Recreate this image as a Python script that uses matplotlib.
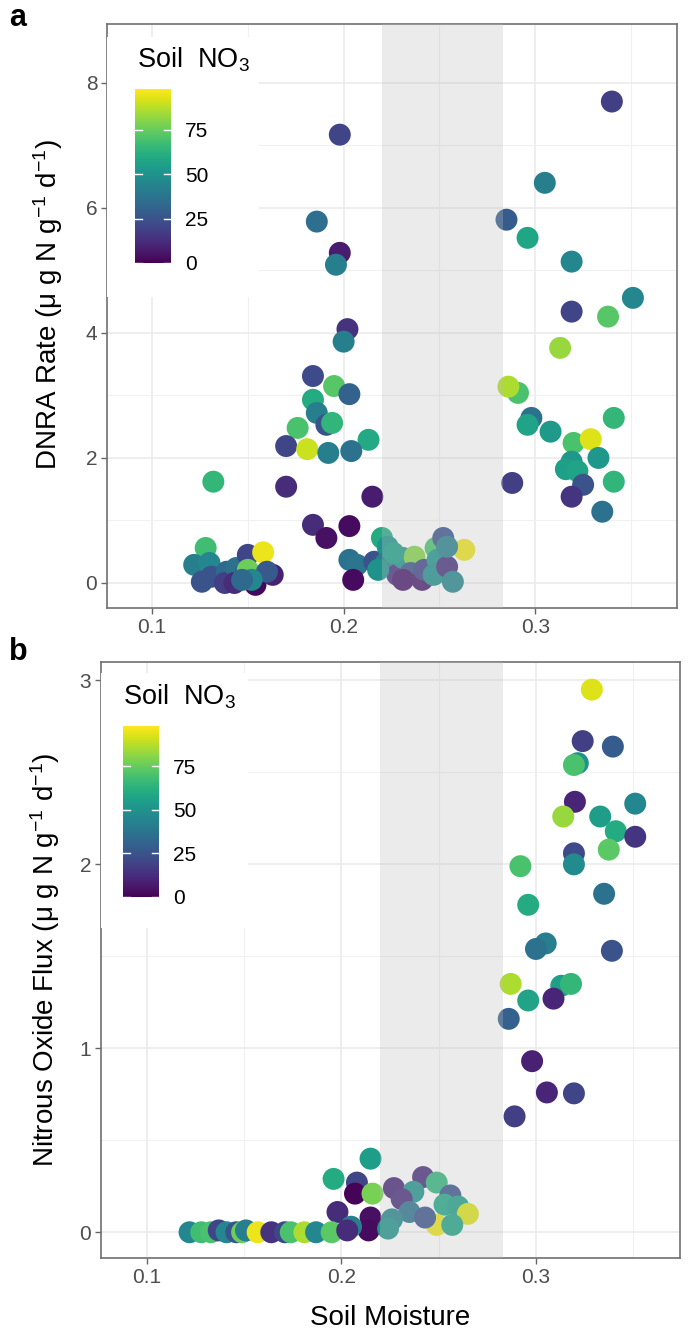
import matplotlib
matplotlib.use('agg')
import matplotlib.pyplot as plt
import numpy as np
from matplotlib.patches import Rectangle
from matplotlib.colors import Normalize

plt.rcParams['font.family'] = ['Liberation Sans', 'DejaVu Sans']
plt.rcParams['mathtext.fontset'] = 'custom'
plt.rcParams['mathtext.rm'] = 'Liberation Sans'
plt.rcParams['mathtext.it'] = 'Liberation Sans:italic'
plt.rcParams['mathtext.bf'] = 'Liberation Sans:bold'

# panel a: DNRA rate vs soil moisture, coloured by soil NO3
moist_a = [0.198, 0.186, 0.198, 0.196, 0.340, 0.305, 0.285, 0.296, 0.319, 0.351,
           0.319, 0.338, 0.313, 0.291, 0.286, 0.298, 0.296, 0.308, 0.341, 0.320,
           0.329, 0.333, 0.319, 0.316, 0.322, 0.325, 0.319, 0.341, 0.288, 0.335,
           0.184, 0.191, 0.203, 0.215, 0.203, 0.207, 0.205, 0.216, 0.220, 0.223,
           0.222, 0.228, 0.231, 0.237, 0.235, 0.231, 0.241, 0.242, 0.248, 0.252,
           0.249, 0.247, 0.254, 0.257, 0.263, 0.254, 0.218, 0.226, 0.128, 0.122,
           0.130, 0.131, 0.139, 0.138, 0.144, 0.143, 0.150, 0.149, 0.150, 0.158,
           0.154, 0.163, 0.160, 0.152, 0.126, 0.147, 0.202, 0.200, 0.184, 0.195,
           0.203, 0.184, 0.186, 0.191, 0.194, 0.176, 0.213, 0.170, 0.181, 0.192,
           0.204, 0.170, 0.132]
dnra = [7.17, 5.78, 5.28, 5.09, 7.70, 6.40, 5.81, 5.52, 5.14, 4.56,
        4.34, 4.26, 3.76, 3.04, 3.14, 2.64, 2.53, 2.42, 2.64, 2.24,
        2.30, 2.00, 1.94, 1.82, 1.79, 1.57, 1.38, 1.62, 1.60, 1.14,
        0.93, 0.72, 0.91, 1.38, 0.37, 0.29, 0.05, 0.34, 0.72, 0.58,
        0.32, 0.13, 0.40, 0.42, 0.16, 0.05, 0.05, 0.21, 0.56, 0.72,
        0.37, 0.13, 0.26, 0.02, 0.53, 0.58, 0.21, 0.48, 0.56, 0.29,
        0.32, 0.10, 0.18, 0.00, 0.24, 0.00, 0.45, 0.18, 0.21, 0.49,
        -0.03, 0.13, 0.18, 0.05, 0.02, 0.05, 4.06, 3.86, 3.31, 3.15,
        3.02, 2.93, 2.72, 2.53, 2.56, 2.48, 2.29, 2.19, 2.14, 2.08,
        2.11, 1.54, 1.62]
no3_a = [20, 35, 8, 42, 18, 42, 28, 58, 45, 45,
         20, 72, 83, 70, 86, 37, 57, 53, 65, 70,
         93, 52, 52, 55, 57, 25, 15, 64, 18, 37,
         12, 4, 3, 8, 37, 38, 3, 25, 60, 50,
         42, 14, 50, 80, 25, 6, 7, 20, 70, 25,
         50, 48, 14, 45, 95, 42, 50, 55, 68, 42,
         45, 25, 33, 18, 37, 12, 20, 30, 76, 95,
         2, 9, 27, 45, 25, 33, 14, 42, 22, 72,
         31, 60, 42, 25, 64, 70, 59, 20, 90, 42,
         37, 12, 65]

# panel b: nitrous oxide flux vs soil moisture
moist_b = [0.3287, 0.324, 0.3395, 0.3215, 0.3195, 0.351, 0.320, 0.314, 0.333, 0.341,
           0.351, 0.3374, 0.3195, 0.3195, 0.292, 0.335, 0.296, 0.305, 0.300, 0.339,
           0.287, 0.286, 0.296, 0.313, 0.318, 0.309, 0.298, 0.289, 0.3056, 0.3195,
           0.215, 0.196, 0.208, 0.207, 0.216, 0.198, 0.215, 0.214, 0.242, 0.249,
           0.227, 0.237, 0.231, 0.256, 0.253, 0.260, 0.265, 0.235, 0.249, 0.257,
           0.226, 0.243, 0.224, 0.205,
           0.122, 0.128, 0.133, 0.137, 0.141, 0.146, 0.149, 0.151, 0.157, 0.164,
           0.171, 0.174, 0.181, 0.187, 0.195, 0.203]
n2o = [2.95, 2.67, 2.64, 2.55, 2.54, 2.33, 2.34, 2.26, 2.26, 2.18,
       2.15, 2.08, 2.06, 2.00, 1.99, 1.84, 1.78, 1.57, 1.54, 1.53,
       1.35, 1.16, 1.26, 1.34, 1.35, 1.27, 0.93, 0.63, 0.76, 0.755,
       0.40, 0.29, 0.27, 0.21, 0.21, 0.11, 0.08, 0.01, 0.30, 0.27,
       0.24, 0.22, 0.18, 0.20, 0.15, 0.14, 0.10, 0.11, 0.04, 0.04,
       0.07, 0.08, 0.02, 0.03,
       0.0, 0.0, 0.0, 0.01, 0.0, 0.0, 0.0, 0.01, 0.0, 0.0,
       0.0, 0.0, 0.0, 0.0, 0.0, 0.01]
no3_b = [93, 18, 28, 50, 70, 45, 10, 83, 54, 60,
         15, 73, 22, 47, 70, 37, 60, 42, 37, 25,
         86, 30, 57, 55, 65, 10, 9, 18, 10, 20,
         54, 60, 20, 1, 78, 12, 4, 3, 12, 64,
         10, 50, 12, 25, 58, 55, 93, 37, 95, 57,
         45, 25, 50, 42,
         45, 68, 70, 20, 45, 25, 76, 42, 95, 14,
         20, 70, 86, 45, 73, 12]

norm = Normalize(0, 98)
cmap = plt.get_cmap('viridis')

W, H = 693, 1338
fig = plt.figure(figsize=(W / 100, H / 100), dpi=100)


def px_axes(l, t, r, b):
    return fig.add_axes([l / W, 1 - b / H, (r - l) / W, (b - t) / H])


def style(ax, yticks, yminor):
    ax.set_xlim(0.0765, 0.374)
    ax.set_xticks([0.1, 0.2, 0.3])
    ax.set_xticks([0.15, 0.25, 0.35], minor=True)
    ax.set_yticks(yticks)
    ax.set_yticks(yminor, minor=True)
    ax.grid(which='major', color='#EBEBEB', lw=1.2, zorder=0)
    ax.grid(which='minor', color='#F0F0F0', lw=0.8, zorder=0)
    ax.set_axisbelow(True)
    ax.tick_params(which='major', length=4, width=1, color='#666666',
                   labelsize=15, labelcolor='#4D4D4D', pad=3)
    ax.tick_params(which='minor', length=0)
    for s in ax.spines.values():
        s.set_color('#707070')
        s.set_linewidth(1.2)
    ax.axvspan(0.22, 0.283, color='#BEBEBE', alpha=0.3, lw=0, zorder=3)


def legend(ax, box, cbox, title_xy):
    ax.add_patch(Rectangle((0, box[0]), box[1], box[2] - box[0], transform=ax.transAxes,
                           facecolor='white', edgecolor='none', zorder=5))
    cax = px_axes(*cbox)
    cb = fig.colorbar(plt.cm.ScalarMappable(norm=norm, cmap=cmap), cax=cax)
    cb.outline.set_visible(False)
    cb.set_ticks([0, 25, 50, 75])
    cax.tick_params(length=0, labelsize=15, pad=10, labelcolor='black')
    tr = cax.get_yaxis_transform()
    for t in [0, 25, 50, 75]:
        cax.plot([0, 0.2], [t, t], color='white', lw=1, transform=tr, clip_on=False)
        cax.plot([0.8, 1], [t, t], color='white', lw=1, transform=tr, clip_on=False)
    fig.text(title_xy[0] / W, 1 - title_xy[1] / H, r'Soil  NO$_3$', fontsize=19.5,
             va='center', ha='left')


# panel a
ax1 = px_axes(107, 24, 677, 608)
ax1.scatter(moist_a, dnra, c=no3_a, cmap=cmap, norm=norm, s=250, lw=0, zorder=2)
style(ax1, [0, 2, 4, 6, 8], [1, 3, 5, 7])
ax1.set_ylim(-0.4, 8.94)
ax1.set_ylabel(r'DNRA Rate (μ g N g$^{-1}$ d$^{-1}$)', fontsize=20, va='center')
ax1.yaxis.set_label_coords((48 - 107) / 570, 0.52)
legend(ax1, (0.5325, 0.2667, 0.9777), (135, 89, 171, 263), (137, 60))

# panel b
ax2 = px_axes(101, 662, 680, 1258)
ax2.scatter(moist_b, n2o, c=no3_b, cmap=cmap, norm=norm, s=250, lw=0, zorder=2)
style(ax2, [0, 1, 2, 3], [0.5, 1.5, 2.5])
ax2.set_ylim(-0.14, 3.1)
ax2.set_ylabel(r'Nitrous Oxide Flux (μ g N g$^{-1}$ d$^{-1}$)', fontsize=20, va='center')
ax2.yaxis.set_label_coords((45 - 101) / 579, 0.5)
ax2.set_xlabel('Soil Moisture', fontsize=20, va='center')
ax2.xaxis.set_label_coords(0.5, (1258 - 1318) / 596)
legend(ax2, (0.5537, 0.2539, 0.9815), (123, 726, 159, 897), (123, 697))

fig.text(18 / W, 1 - 18 / H, 'a', fontsize=22, fontweight='bold', ha='center', va='center')
fig.text(18 / W, 1 - 652 / H, 'b', fontsize=22, fontweight='bold', ha='center', va='center')

fig.savefig('out.png', dpi=100)
